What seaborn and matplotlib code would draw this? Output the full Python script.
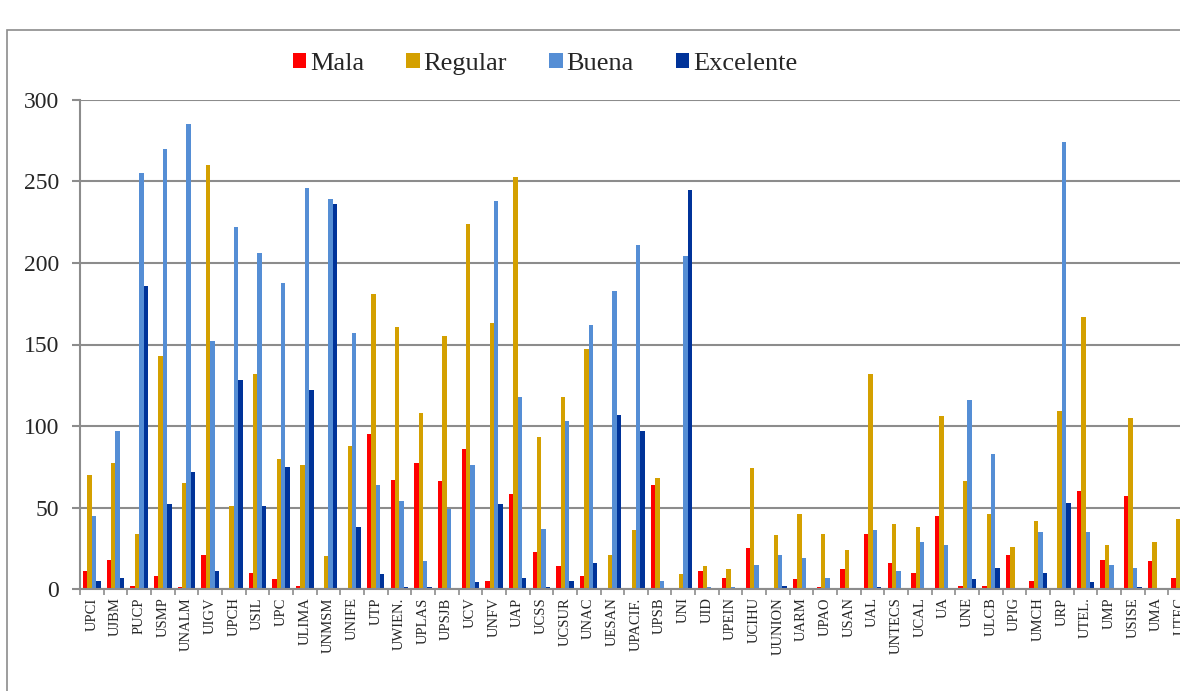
import matplotlib.pyplot as plt
import matplotlib.patches as patches
import pandas as pd
import seaborn as sns

# Universities (x axis categories)
universidades = ['UPCI', 'UJBM', 'PUCP', 'USMP', 'UNALM', 'UIGV', 'UPCH', 'USIL', 'UPC',
                 'ULIMA', 'UNMSM', 'UNIFE', 'UTP', 'UWIEN.', 'UPLAS', 'UPSJB', 'UCV',
                 'UNFV', 'UAP', 'UCSS', 'UCSUR', 'UNAC', 'UESAN', 'UPACIF.', 'UPSB',
                 'UNI', 'UID', 'UPEIN', 'UCIHU', 'UUNION', 'UARM', 'UPAO', 'USAN',
                 'UAL', 'UNTECS', 'UCAL', 'UA', 'UNE', 'ULCB', 'UPIG', 'UMCH', 'URP',
                 'UTEL.', 'UMP', 'USISE', 'UMA', 'UTEC']

# Values, one list per rating
mala = [11, 18, 2, 8, 1, 21, 0, 10, 6, 2, 0, 0, 95, 67, 77, 66, 86, 5, 58, 23, 14, 8,
        0, 0, 64, 0, 11, 7, 25, 0, 6, 1, 12, 34, 16, 10, 45, 2, 2, 21, 5, 0, 60, 18,
        57, 17, 7]
regular = [70, 77, 34, 143, 65, 260, 51, 132, 80, 76, 20, 88, 181, 161, 108, 155, 224,
           163, 253, 93, 118, 147, 21, 36, 68, 9, 14, 12, 74, 33, 46, 34, 24, 132, 40,
           38, 106, 66, 46, 26, 42, 109, 167, 27, 105, 29, 43]
buena = [45, 97, 255, 270, 285, 152, 222, 206, 188, 246, 239, 157, 64, 54, 17, 49, 76,
         238, 118, 37, 103, 162, 183, 211, 5, 204, 1, 1, 15, 21, 19, 7, 0, 36, 11, 29,
         27, 116, 83, 0, 35, 274, 35, 15, 13, 0, 25]
excelente = [5, 7, 186, 52, 72, 11, 128, 51, 75, 122, 236, 38, 9, 1, 1, 0, 4, 52, 7, 1,
             5, 16, 107, 97, 0, 245, 0, 0, 0, 2, 0, 0, 0, 1, 0, 0, 0, 6, 13, 0, 10, 53,
             4, 0, 1, 0, 3]

series = ['Mala', 'Regular', 'Buena', 'Excelente']
colores = ['#FF0000', '#D4A000', '#558ED5', '#003399']

df = pd.DataFrame({'Universidad': universidades, 'Mala': mala, 'Regular': regular,
                   'Buena': buena, 'Excelente': excelente})
df_long = df.melt(id_vars='Universidad', value_vars=series,
                  var_name='Calificacion', value_name='Cantidad')

sns.set_theme(style='white')
plt.rcParams['font.family'] = ['Liberation Serif', 'DejaVu Serif']

fig = plt.figure(figsize=(11.8, 6.91), dpi=100)
ax = fig.add_axes([80 / 1180, 102 / 691, 1112 / 1180, 489 / 691])

sns.barplot(data=df_long, x='Universidad', y='Cantidad', hue='Calificacion',
            hue_order=series, palette=colores, width=0.74, gap=0,
            linewidth=0, saturation=1, ax=ax)

ax.set_xlim(-0.5, len(universidades) - 0.5)
ax.set_ylim(0, 300)
ax.set_yticks(range(0, 301, 50))
ax.yaxis.grid(True, color='#8C8C8C', linewidth=1.5)
ax.set_axisbelow(True)
ax.set_xlabel('')
ax.set_ylabel('')

for side in ['top', 'right']:
    ax.spines[side].set_visible(False)
for side in ['left', 'bottom']:
    ax.spines[side].set_color('#8C8C8C')
    ax.spines[side].set_linewidth(1.5)

ax.tick_params(axis='y', labelsize=17, length=6, width=1.5, color='#8C8C8C',
               left=True, pad=9)
ax.tick_params(axis='x', which='major', length=0, labelsize=10.5, pad=6,
               labelrotation=90)
ax.set_xticks([i - 0.5 for i in range(len(universidades) + 1)], minor=True)
ax.tick_params(axis='x', which='minor', bottom=True, length=4.5, width=1.2,
               color='#8C8C8C')

# legend across the top
handles, labels = ax.get_legend_handles_labels()
ax.get_legend().remove()
fig.legend(handles, labels, loc='center', bbox_to_anchor=(0.462, 0.908), ncol=4,
           frameon=False, fontsize=19, handlelength=0.5, handleheight=0.5,
           handletextpad=0.15, columnspacing=1.6)

# outer chart frame
fig.patches.append(patches.Rectangle((7 / 1180, -0.1), 1.2, 0.1 + 1 - 30 / 691,
                                     transform=fig.transFigure, fill=False,
                                     edgecolor='#8C8C8C', linewidth=1.2))

fig.savefig('out.png', dpi=100)
